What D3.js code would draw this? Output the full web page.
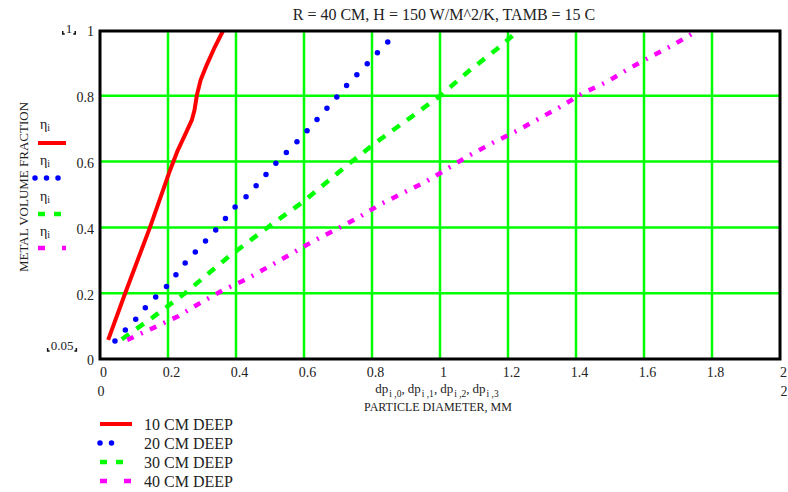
<!DOCTYPE html>
<html>
<head>
<meta charset="utf-8">
<script src="https://cdn.jsdelivr.net/npm/d3@7"></script>
<style>
  html, body { margin: 0; padding: 0; background: #fff; }
  svg text { font-family: "Liberation Serif", "Times New Roman", serif; fill: #222; }
</style>
</head>
<body>
<svg id="chart" width="788" height="492"></svg>
<script>
// Metal volume fraction vs particle diameter, for four bed depths
const seriesNames = ["10 CM DEEP", "20 CM DEEP", "30 CM DEEP", "40 CM DEEP"];
const seriesColors = ["#ff0000", "#0000ff", "#00ff00", "#ff00ff"];

const dp10 = [0.024, 0.074, 0.147, 0.206, 0.229, 0.25, 0.27, 0.278, 0.285, 0.296, 0.314, 0.338, 0.363];
const eta10 = [0.058, 0.2, 0.4, 0.574, 0.635, 0.681, 0.726, 0.757, 0.802, 0.848, 0.894, 0.949, 1.0];

const dp20 = [0.044, 0.106, 0.135, 0.165, 0.2, 0.253, 0.343, 0.4, 0.435, 0.523, 0.588, 0.676, 0.732, 0.797, 0.826, 0.858];
const eta20 = [0.055, 0.122, 0.158, 0.19, 0.225, 0.295, 0.395, 0.465, 0.498, 0.602, 0.669, 0.772, 0.839, 0.909, 0.942, 0.976];

const dp30 = [0.064, 0.157, 0.25, 0.377, 0.51, 0.6, 0.728, 0.814, 0.912, 1.0, 1.088, 1.176, 1.232];
const eta30 = [0.06, 0.128, 0.2, 0.31, 0.413, 0.48, 0.59, 0.66, 0.733, 0.8, 0.878, 0.949, 1.0];

const dp40 = [0.08, 0.162, 0.23, 0.294, 0.363, 0.431, 0.495, 0.563, 0.627, 0.696, 0.76, 0.824, 0.892, 0.96, 1.024, 1.088, 1.155, 1.225, 1.288, 1.353, 1.42, 1.49, 1.553, 1.618, 1.685, 1.76];
const eta40 = [0.058, 0.097, 0.13, 0.17, 0.21, 0.243, 0.28, 0.32, 0.358, 0.395, 0.43, 0.47, 0.505, 0.54, 0.58, 0.62, 0.657, 0.693, 0.729, 0.766, 0.808, 0.842, 0.881, 0.918, 0.954, 1.0];

const xTicks = [0, 0.2, 0.4, 0.6, 0.8, 1, 1.2, 1.4, 1.6, 1.8, 2];
const yTicks = [0, 0.2, 0.4, 0.6, 0.8, 1];
const xLimits = ["0", "2"];
const yLimits = ["1", "0.05"];

const titleText = "R = 40 CM, H = 150 W/M^2/K, TAMB = 15 C";
const yTitle = "METAL VOLUME FRACTION";
const xTitle = "PARTICLE DIAMETER, MM";
const xVarSubs = ["i ,0", "i ,1", "i ,2", "i ,3"];

const styles = [
  { width: 4, dash: null, cap: "butt" },
  { width: 5.5, dash: "0,15", cap: "round" },
  { width: 4.5, dash: "9,9", cap: "butt" },
  { width: 4.5, dash: "7,8,2,8", cap: "butt" }
];
const legendDash = [null, "0,11.5", "7,9", "7,17"];

const svg = d3.select("#chart");
const L = 100, R = 780, T = 31, B = 359;

const x = d3.scaleLinear().domain([0, 2]).range([L, R]);
const y = d3.scaleLinear().domain([0, 1]).range([B, 30]);

// title
svg.append("text").attr("x", 444).attr("y", 20).attr("text-anchor", "middle")
  .style("font-size", "16px").text(titleText);

// grid
const grid = svg.append("g");
grid.selectAll("line.gx").data(xTicks.slice(1, -1)).join("line")
  .attr("x1", d => x(d)).attr("x2", d => x(d)).attr("y1", T).attr("y2", B)
  .attr("stroke", "#00ff00").attr("stroke-width", 2.5);
grid.selectAll("line.gy").data(yTicks.slice(1, -1)).join("line")
  .attr("y1", d => y(d)).attr("y2", d => y(d)).attr("x1", L).attr("x2", R)
  .attr("stroke", "#00ff00").attr("stroke-width", 2.5);

// clip to plot area
svg.append("clipPath").attr("id", "plotClip").append("rect")
  .attr("x", L).attr("y", T).attr("width", R - L).attr("height", B - T);

const data = [
  d3.zip(dp10, eta10), d3.zip(dp20, eta20), d3.zip(dp30, eta30), d3.zip(dp40, eta40)
];
const line = d3.line().x(d => x(d[0])).y(d => y(d[1]));

const plot = svg.append("g").attr("clip-path", "url(#plotClip)");
data.forEach((s, i) => {
  plot.append("path").datum(s).attr("d", line)
    .attr("fill", "none").attr("stroke", seriesColors[i])
    .attr("stroke-width", styles[i].width)
    .attr("stroke-linecap", styles[i].cap)
    .attr("stroke-linejoin", "round")
    .attr("stroke-dasharray", styles[i].dash);
});

// frame
svg.append("rect").attr("x", L).attr("y", T).attr("width", R - L).attr("height", B - T)
  .attr("fill", "none").attr("stroke", "#000").attr("stroke-width", 3);

// x tick labels
const xAxis = d3.axisBottom(x).tickValues(xTicks).tickSize(0).tickFormat(d3.format("~g"));
const gx = svg.append("g").attr("transform", `translate(3,${B})`).call(xAxis);
gx.select(".domain").remove();
gx.selectAll("text").attr("dy", "1.05em").style("font-size", "14px")
  .style("font-family", "'Liberation Serif', serif").attr("fill", "#222");

// y tick labels
const yAxis = d3.axisLeft(y).tickValues(yTicks).tickSize(0).tickFormat(d3.format("~g"));
const gy = svg.append("g").attr("transform", `translate(${L - 3},1)`).call(yAxis);
gy.select(".domain").remove();
gy.selectAll("text").attr("dy", "0.35em").style("font-size", "14px")
  .style("font-family", "'Liberation Serif', serif").attr("fill", "#222");

// axis limit labels under the x axis
svg.append("text").attr("x", 101).attr("y", 396).attr("text-anchor", "middle")
  .style("font-size", "14px").text(xLimits[0]);
svg.append("text").attr("x", 784).attr("y", 396).attr("text-anchor", "middle")
  .style("font-size", "14px").text(xLimits[1]);

// y limit markers with corner brackets
function limitLabel(cx, cy, txt) {
  const t = svg.append("text").attr("x", cx).attr("y", cy).attr("text-anchor", "middle")
    .style("font-size", "13px").text(txt);
  const w = t.node().getComputedTextLength();
  const x0 = cx - w / 2 - 3, x1 = cx + w / 2 + 3, yb = cy + 1;
  svg.append("path").attr("d", `M${x0},${yb - 3}V${yb}H${x0 + 2}M${x1},${yb - 3}V${yb}H${x1 - 2}`)
    .attr("fill", "none").attr("stroke", "#111").attr("stroke-width", 1.5);
}
limitLabel(69, 33, yLimits[0]);
limitLabel(62, 350, yLimits[1]);

// y axis title
svg.append("text").attr("transform", "translate(28,187) rotate(-90)")
  .attr("text-anchor", "middle").style("font-size", "13px").text(yTitle);

// x axis variable names: dp with subscripts, laid out piece by piece
const dpGroup = svg.append("g");
let cursor = 0;
xVarSubs.forEach((sub, i) => {
  const a = dpGroup.append("text").attr("x", cursor).attr("y", 393)
    .style("font-size", "13px").text("dp");
  cursor += a.node().getComputedTextLength() + 1;
  const b = dpGroup.append("text").attr("x", cursor).attr("y", 396.5)
    .style("font-size", "9.5px").text(sub);
  cursor += b.node().getComputedTextLength();
  if (i < xVarSubs.length - 1) {
    const c = dpGroup.append("text").attr("x", cursor).attr("y", 393)
      .style("font-size", "13px").text(",");
    cursor += c.node().getComputedTextLength() + 3;
  }
});
dpGroup.attr("transform", `translate(${437 - cursor / 2},0)`);

svg.append("text").attr("x", 438).attr("y", 411).attr("text-anchor", "middle")
  .style("font-size", "12px").text(xTitle);

// left-side trace legend (eta_i)
const etaY = [129, 165, 201, 236];
const etaLineY = [143, 178, 214, 248];
seriesColors.forEach((c, i) => {
  const t = svg.append("text").attr("x", 40).attr("y", etaY[i]).style("font-size", "14px");
  t.append("tspan").text("η");
  t.append("tspan").attr("dy", 2).style("font-size", "10px").text("i");
  const st = styles[i];
  svg.append("line")
    .attr("x1", i === 1 ? 35 : 38).attr("x2", i === 1 ? 60 : (i === 2 ? 67 : 66))
    .attr("y1", etaLineY[i]).attr("y2", etaLineY[i])
    .attr("stroke", c).attr("stroke-width", st.width)
    .attr("stroke-linecap", st.cap)
    .attr("stroke-dasharray", legendDash[i]);
});

// bottom legend
const legY = [424, 443, 462, 481];
const legend = svg.append("g");
seriesNames.forEach((name, i) => {
  const st = styles[i];
  legend.append("line")
    .attr("x1", 100).attr("x2", i === 1 ? 123 : (i === 3 ? 131 : 132))
    .attr("y1", legY[i]).attr("y2", legY[i])
    .attr("stroke", seriesColors[i]).attr("stroke-width", st.width)
    .attr("stroke-linecap", st.cap)
    .attr("stroke-dasharray", legendDash[i]);
  legend.append("text").attr("x", 144).attr("y", legY[i] + 5.5)
    .style("font-size", "16px").text(name);
});
</script>
</body>
</html>
